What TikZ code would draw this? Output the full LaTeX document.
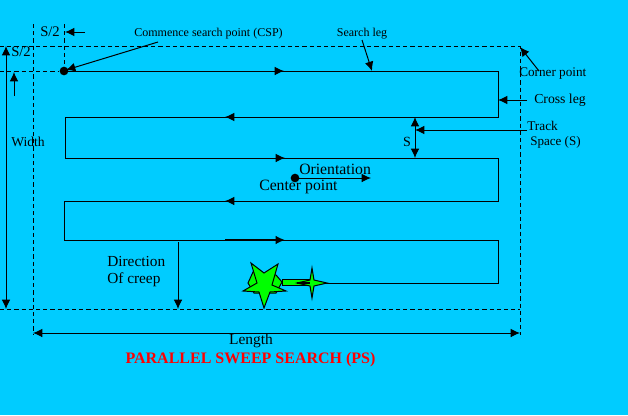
\documentclass[tikz,border=0pt]{standalone}
\usepackage{fontspec}
\setmainfont{Liberation Serif}
\usetikzlibrary{arrows.meta}
\definecolor{bgc}{HTML}{00CCFF}
\definecolor{starg}{HTML}{00FF00}
\definecolor{redt}{HTML}{FF0000}
\newcommand{\fsz}[1]{\fontsize{#1}{#1}\selectfont}
\tikzset{
  lbl/.style={inner sep=0pt},
  ln/.style={line width=0.75pt,black},
  dsh/.style={line width=0.75pt,black,dash pattern=on 3.2pt off 2.2pt},
  arr/.style={ln,-{Latex[length=7pt,width=6.5pt]}},
  darr/.style={ln,{Latex[length=7pt,width=6.5pt]}-{Latex[length=7pt,width=6.5pt]}},
  dotn/.style={circle,fill=black,inner sep=0pt,minimum size=6.5pt},
  starf/.style={fill=starg,draw=black,line width=0.75pt}
}
\begin{document}
\begin{tikzpicture}[x=0.75pt,y=-0.75pt]
\useasboundingbox (0,0) rectangle (628,415);
\fill[bgc] (0,0) rectangle (628,415);
% dashed frame
\coordinate (tl) at (0,46); \coordinate (tr) at (520,46);
\coordinate (bl) at (0,309); \coordinate (br) at (520,309);
\coordinate (lt) at (33,24); \coordinate (lb) at (33,335);
\coordinate (rb) at (520,335);
\coordinate (vt) at (64,24);
\coordinate (h0) at (0,71);
\node[dotn] (csp) at (64,71) {};
\draw[dsh] (tl) -- (tr) -- (rb);
\draw[dsh] (bl) -- (br);
\draw[dsh] (lt) -- (lb);
\draw[dsh] (vt) -- (csp);
\draw[dsh] (h0) -- (csp);
% track
\coordinate (p1) at (498,71); \coordinate (p2) at (498,117);
\coordinate (p3) at (65,117); \coordinate (p4) at (65,158);
\coordinate (p5) at (498,158); \coordinate (p6) at (498,201);
\coordinate (p7) at (64,201); \coordinate (p8) at (64,240);
\coordinate (p9) at (498,240); \coordinate (p10) at (498,283);
\coordinate (p11) at (318,283);
\draw[ln] (csp.center) -- (p1) -- (p2) -- (p3) -- (p4) -- (p5) -- (p6) -- (p7) -- (p8) -- (p9) -- (p10) -- (p11);
% direction marks on the track
\coordinate (m1a) at (270,71); \coordinate (m1b) at (284,71);
\coordinate (m2a) at (240,117); \coordinate (m2b) at (225,117);
\coordinate (m3a) at (270,158); \coordinate (m3b) at (285,158);
\coordinate (m4a) at (240,201); \coordinate (m4b) at (225,201);
\coordinate (m5a) at (225,240); \coordinate (m5b) at (285,240);
\draw[arr] (m1a) -- (m1b);
\draw[arr] (m2a) -- (m2b);
\draw[arr] (m3a) -- (m3b);
\draw[arr] (m4a) -- (m4b);
\draw[arr,line width=1.3pt] (m5a) -- (m5b);
% stars
\draw[starf] (282,279) rectangle (312,285);
\draw[starf] (253,272) -- (248,283) -- (254,293) -- (276,293) -- (282,282) -- (276,275) -- cycle;
\draw[starf] (251,263) -- (264,273) -- (278,264) -- (272,285) -- (286,291) -- (270,292) -- (264,308) -- (259,292) -- (243,291) -- (257,283) -- cycle;
\draw[starf] (312,268) -- (314,280) -- (327,283) -- (314,286) -- (312,298) -- (310,286) -- (297,283) -- (310,280) -- cycle;
\draw[ln,line width=1.2pt] (297,283) -- (310,283);
% labels
\node[lbl,anchor=west,font=\fsz{11}] (s2a) at (40,32) {S/2};
\node[lbl,anchor=west,font=\fsz{11}] (s2b) at (11,52) {S/2};
\node[lbl,font=\fsz{9}] (lcsp) at (208.5,34) {Commence search point (CSP)};
\node[lbl,font=\fsz{9}] (lleg) at (362,34) {Search leg};
\node[lbl,anchor=west,font=\fsz{9.9}] (lcor) at (519,74) {Corner point};
\node[lbl,anchor=west,font=\fsz{10.3}] (lcross) at (534,100) {Cross leg};
\node[lbl,anchor=west,font=\fsz{10}] (ltrack) at (527,126) {Track};
\node[lbl,anchor=west,font=\fsz{9.8}] (lspace) at (530,142) {Space (S)};
\node[lbl,font=\fsz{10.5}] (ls) at (407,142) {S};
\node[lbl,font=\fsz{10.2}] (lw) at (28,142) {Width};
\node[lbl,anchor=west,font=\fsz{11.5}] (ldir) at (107,261) {Direction};
\node[lbl,anchor=west,font=\fsz{11.5}] (lof) at (107,280) {Of creep};
\node[lbl,anchor=west,font=\fsz{11.8}] (lori) at (299,169) {Orientation};
\node[lbl,anchor=west,font=\fsz{11.8}] (lcen) at (259,187) {Center point};
\node[lbl,font=\fsz{11.6}] (llen) at (251,341) {Length};
\node[lbl,text=redt,font=\fsz{12}\bfseries] (lttl) at (250.5,360) {PARALLEL SWEEP SEARCH (PS)};
% connectors
\coordinate (a1) at (85,32); \coordinate (a1e) at (65,32);
\draw[arr] (a1) -- (a1e);
\coordinate (a2) at (14,96); \coordinate (a2e) at (14,72);
\draw[arr] (a2) -- (a2e);
\coordinate (a3) at (158,42); \coordinate (a3e) at (66,70);
\draw[arr] (a3) -- (a3e);
\coordinate (a4) at (362,40); \coordinate (a4e) at (372,71);
\draw[arr] (a4) -- (a4e);
\coordinate (a5) at (539,71); \coordinate (a5e) at (520,47);
\draw[arr] (a5) -- (a5e);
\coordinate (a6) at (527,100); \coordinate (a6e) at (498,100);
\draw[arr] (a6) -- (a6e);
\coordinate (a7) at (527,130); \coordinate (a7e) at (415,130);
\draw[arr] (a7) -- (a7e);
\coordinate (a8) at (415,117); \coordinate (a8e) at (415,158);
\draw[darr] (a8) -- (a8e);
\coordinate (a9) at (6,46); \coordinate (a9e) at (6,309);
\draw[darr] (a9) -- (a9e);
\coordinate (a10) at (178,242); \coordinate (a10e) at (178,309);
\draw[arr] (a10) -- (a10e);
\coordinate (a11) at (33,333); \coordinate (a11e) at (520,333);
\draw[darr] (a11) -- (a11e);
\node[dotn] (cen) at (295,178) {};
\coordinate (a12) at (371,178);
\draw[arr] (cen.center) -- (a12);
\end{tikzpicture}
\end{document}
